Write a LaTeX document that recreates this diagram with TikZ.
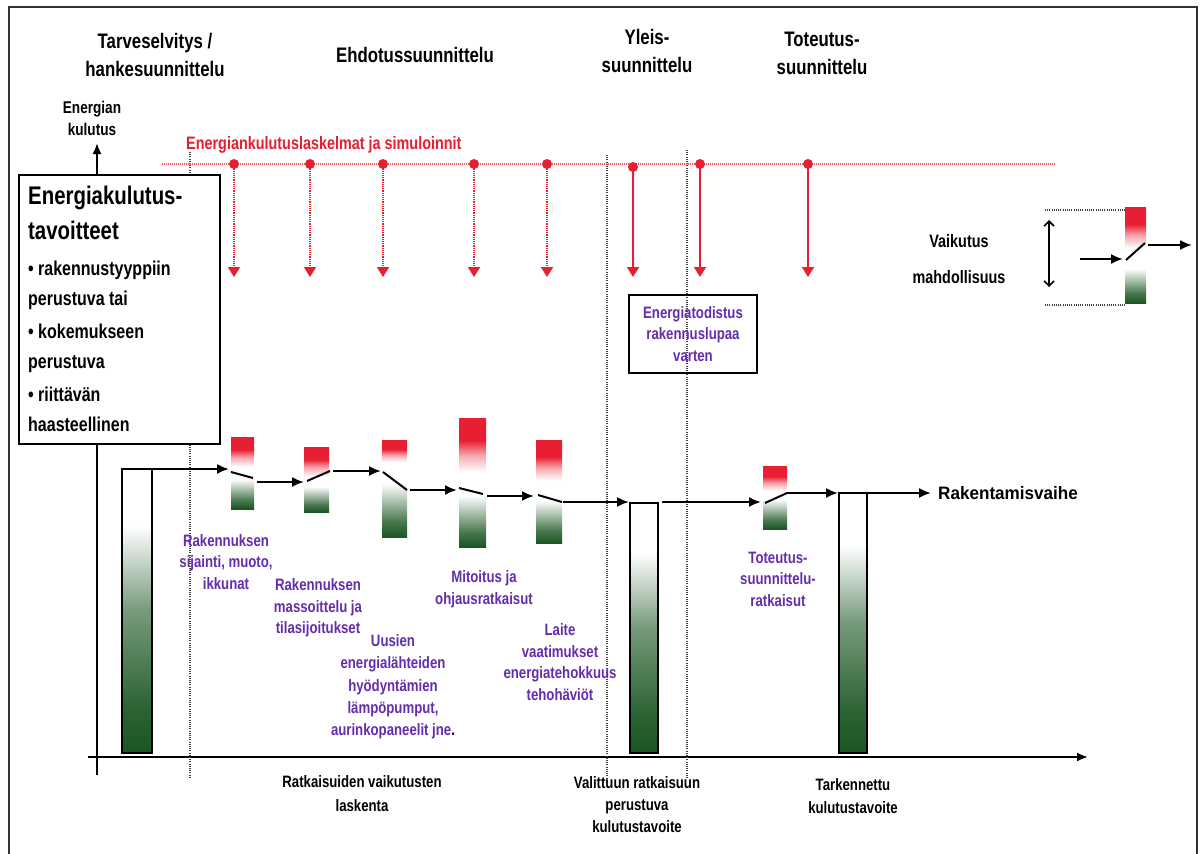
\documentclass[tikz,border=0pt]{standalone}
\usepackage{fontspec}
\setmainfont{Liberation Sans}[FakeStretch=0.8]
\newfontfamily\widefont{Liberation Sans}[FakeStretch=0.95]
\usetikzlibrary{arrows.meta}
\definecolor{myred}{RGB}{232,30,50}
\definecolor{mypurple}{RGB}{100,45,170}
\definecolor{gdark}{RGB}{26,86,34}
\colorlet{gmid}{gdark!60!white}
\colorlet{gsoft}{gdark!92!white}
\colorlet{rfade}{myred!40!white}
\colorlet{gfade}{gdark!80!white}
\pgfdeclareverticalshading{barsh}{100bp}{color(0bp)=(gdark); color(25bp)=(gdark); color(33bp)=(gsoft); color(50bp)=(gmid); color(65bp)=(white); color(100bp)=(white)}
\pgfdeclareverticalshading{redsh}{100bp}{color(0bp)=(white); color(27bp)=(white); color(42bp)=(rfade); color(55bp)=(myred); color(100bp)=(myred)}
\pgfdeclareverticalshading{grnsh}{100bp}{color(0bp)=(gdark); color(25bp)=(gdark); color(38bp)=(gfade); color(70bp)=(white); color(100bp)=(white)}
\tikzset{
  hdr/.style={font=\bfseries\fontsize{21}{28}\selectfont, align=center, inner sep=0pt},
  lbl/.style={font=\bfseries\fontsize{16}{23}\selectfont, align=center, inner sep=0pt},
  pur/.style={font=\bfseries\fontsize{16.5}{21.5}\selectfont, align=center, inner sep=0pt, text=mypurple},
  flowarr/.style={line width=2pt, -{Latex[length=12pt,width=10pt]}},
  swline/.style={line width=2pt},
  vdot/.style={line width=1.1pt, black!75, dash pattern=on 1pt off 1.2pt},
  redarr/.style={myred, line width=1.6pt, -{Triangle[length=10pt,width=12pt]}},
  reddotted/.style={redarr, dash pattern=on 1.2pt off 1pt},
  gbar/.style={draw, line width=1.8pt, shading=barsh},
}
\begin{document}
\begin{tikzpicture}[x=1pt,y=-1pt]
\useasboundingbox (0,0) rectangle (1203,854);
\fill[white] (0,0) rectangle (1203,854);
% frame
\draw[line width=1.8pt, black!80] (9,854) -- (9,7) -- (1197,7) -- (1197,854);

% headers
\node[hdr] (h1) at (155,55) {Tarveselvitys /\\hankesuunnittelu};
\node[hdr, anchor=base] (h2) at (415,62) {Ehdotussuunnittelu};
\node[hdr] (h3) at (647,51) {Yleis-\\suunnittelu};
\node[hdr] (h4) at (822,53) {Toteutus-\\suunnittelu};

% axes
\coordinate (ya0) at (97,775);
\coordinate (ya1) at (97,143);
\coordinate (xa0) at (88,757);
\coordinate (xa1) at (1088,757);
\draw[line width=2pt, -{Latex[length=11pt,width=9pt]}] (ya0) -- (ya1);
\draw[line width=2pt, -{Latex[length=11pt,width=9pt]}] (xa0) -- (xa1);
\node[font=\bfseries\fontsize{17}{22}\selectfont, align=center, inner sep=0pt] (ylab) at (92,118) {Energian\\kulutus};

% dotted phase separators
\coordinate (d1a) at (190,152); \coordinate (d1b) at (190,778);
\coordinate (d2a) at (607,155); \coordinate (d2b) at (607,778);
\coordinate (d3a) at (687,150); \coordinate (d3b) at (687,778);
\draw[vdot] (d1a) -- (d1b);
\draw[vdot] (d2a) -- (d2b);
\draw[vdot] (d3a) -- (d3b);

% red calculation line
\node[anchor=base west, inner sep=0pt, text=myred, font=\bfseries\fontsize{18}{20}\selectfont] (calc) at (186,149) {Energiankulutuslaskelmat ja simuloinnit};
\coordinate (rl0) at (162,164);
\coordinate (rl1) at (1055,164);
\draw[myred!75, line width=1.4pt, dash pattern=on 1pt off 1pt] (rl0) -- (rl1);
\foreach \x [count=\i] in {234,310,383,474,547} {
  \coordinate (rs\i) at (\x,164);
  \coordinate (re\i) at (\x,277);
  \draw[reddotted] (rs\i) -- (re\i);
  \fill[myred] (rs\i) circle (5);
}
\foreach \x/\y [count=\i] in {633/167,700/164,808/164} {
  \coordinate (rt\i) at (\x,\y);
  \coordinate (rb\i) at (\x,277);
  \draw[redarr] (rt\i) -- (rb\i);
  \fill[myred] (rt\i) circle (5);
}

% goal box
\node[draw, line width=1.8pt, fill=white, minimum width=201pt, minimum height=269pt, anchor=north west, inner sep=0pt] (goal) at (18,174) {};
\node[anchor=north west, inner sep=0pt, align=left, font=\bfseries\fontsize{25.5}{35}\selectfont] (goaltitle) at (28,186) {Energiakulutus-\\tavoitteet};
\node[anchor=north west, inner sep=0pt, align=left, font=\bfseries\fontsize{20}{30}\selectfont] (goalitems) at (28,260.5) {• rakennustyyppiin\\perustuva tai\\[3pt]• kokemukseen\\perustuva\\[3pt]• riittävän\\haasteellinen};

% gradient blocks (impact possibility)
\foreach \a/\b/\rt/\rb/\gt/\gb in {231/254/437/468/476/509, 304/329/447/478/484/512, 382/407/440/463/478/537, 459/486/418/474/490/547, 536/562/440/482/496/543, 763/787/466/492/496/529, 1125/1146/207/250/265/303} {
  \shade[shading=redsh] (\a,\rt) rectangle (\b,\rb);
  \shade[shading=grnsh] (\a,\gt) rectangle (\b,\gb);
}

% bars
\shadedraw[gbar] (122,469) rectangle (152,753);
\shadedraw[gbar] (630,503) rectangle (658,753);
\shadedraw[gbar] (839,493) rectangle (867,753);

% flow path
\coordinate (f0) at (152,469);  \coordinate (f1) at (229,469);
\coordinate (s1a) at (231,472); \coordinate (s1b) at (253,478);
\coordinate (f2) at (257,482);  \coordinate (f3) at (304,482);
\coordinate (s2a) at (307,481); \coordinate (s2b) at (330,471);
\coordinate (f4) at (333,471);  \coordinate (f5) at (381,471);
\coordinate (s3a) at (383,472); \coordinate (s3b) at (407,490);
\coordinate (f6) at (410,490);  \coordinate (f7) at (457,490);
\coordinate (s4a) at (459,488); \coordinate (s4b) at (483,494);
\coordinate (f8) at (487,496);  \coordinate (f9) at (534,496);
\coordinate (s5a) at (538,495); \coordinate (s5b) at (562,502);
\coordinate (f10) at (563,502); \coordinate (f11) at (629,502);
\coordinate (f12) at (662,502); \coordinate (f13) at (761,502);
\coordinate (s6a) at (765,503); \coordinate (s6b) at (787,493);
\coordinate (f14) at (787,493); \coordinate (f15) at (838,493);
\coordinate (f16) at (867,493); \coordinate (f17) at (931,493);
\draw[flowarr] (f0) -- (f1);
\draw[swline] (s1a) -- (s1b);
\draw[flowarr] (f2) -- (f3);
\draw[swline] (s2a) -- (s2b);
\draw[flowarr] (f4) -- (f5);
\draw[swline] (s3a) -- (s3b);
\draw[flowarr] (f6) -- (f7);
\draw[swline] (s4a) -- (s4b);
\draw[flowarr] (f8) -- (f9);
\draw[swline] (s5a) -- (s5b);
\draw[flowarr] (f10) -- (f11);
\draw[flowarr] (f12) -- (f13);
\draw[swline] (s6a) -- (s6b);
\draw[flowarr] (f14) -- (f15);
\draw[flowarr] (f16) -- (f17);
\node[anchor=west, inner sep=0pt, font=\widefont\bfseries\fontsize{18}{20}\selectfont] (build) at (938,493) {Rakentamisvaihe};

% legend
\coordinate (lt0) at (1045,210); \coordinate (lt1) at (1125,210);
\coordinate (lb0) at (1045,305); \coordinate (lb1) at (1125,305);
\draw[vdot] (lt0) -- (lt1);
\draw[vdot] (lb0) -- (lb1);
\coordinate (la0) at (1049,220); \coordinate (la1) at (1049,287);
\draw[line width=1.6pt, {Straight Barb[length=5pt,width=10pt]}-{Straight Barb[length=5pt,width=10pt]}] (la0) -- (la1);
\coordinate (li0) at (1080,259); \coordinate (li1) at (1123,259);
\coordinate (ls0) at (1126,260); \coordinate (ls1) at (1145,243);
\coordinate (lo0) at (1148,245); \coordinate (lo1) at (1192,245);
\draw[flowarr] (li0) -- (li1);
\draw[swline] (ls0) -- (ls1);
\draw[flowarr] (lo0) -- (lo1);
\node[font=\bfseries\fontsize{18}{36}\selectfont, align=center, inner sep=0pt] (leg) at (959,259) {Vaikutus\\mahdollisuus};

% certificate box
\node[draw, line width=1.6pt, minimum width=128pt, minimum height=78pt, inner sep=0pt, pur] (cert) at (693,334) {Energiatodistus\\rakennuslupaa\\varten};

% purple solution labels
\node[pur] (p1) at (226,562) {Rakennuksen\\sijainti, muoto,\\ikkunat};
\node[pur] (p2) at (318,608) {Rakennuksen\\massoittelu ja\\tilasijoitukset};
\node[pur] (p3) at (484,589) {Mitoitus ja\\ohjausratkaisut};
\node[pur, font=\bfseries\fontsize{16.5}{22.3}\selectfont] (p4) at (393,687) {Uusien\\energialähteiden\\hyödyntämien\\lämpöpumput,\\aurinkopaneelit jne\textcolor{black}{.}};
\node[pur] (p5) at (560,662) {Laite\\vaatimukset\\energiatehokkuus\\tehohäviöt};
\node[pur] (p6) at (778,579) {Toteutus-\\suunnittelu-\\ratkaisut};

% bottom labels
\node[lbl, font=\bfseries\fontsize{16.5}{24}\selectfont] (b1) at (362,794) {Ratkaisuiden vaikutusten\\laskenta};
\node[lbl, font=\bfseries\fontsize{16.5}{22}\selectfont] (b2) at (637,805) {Valittuun ratkaisuun\\perustuva\\kulutustavoite};
\node[lbl, font=\bfseries\fontsize{16.5}{23}\selectfont] (b3) at (853,796) {Tarkennettu\\kulutustavoite};
\end{tikzpicture}
\end{document}
